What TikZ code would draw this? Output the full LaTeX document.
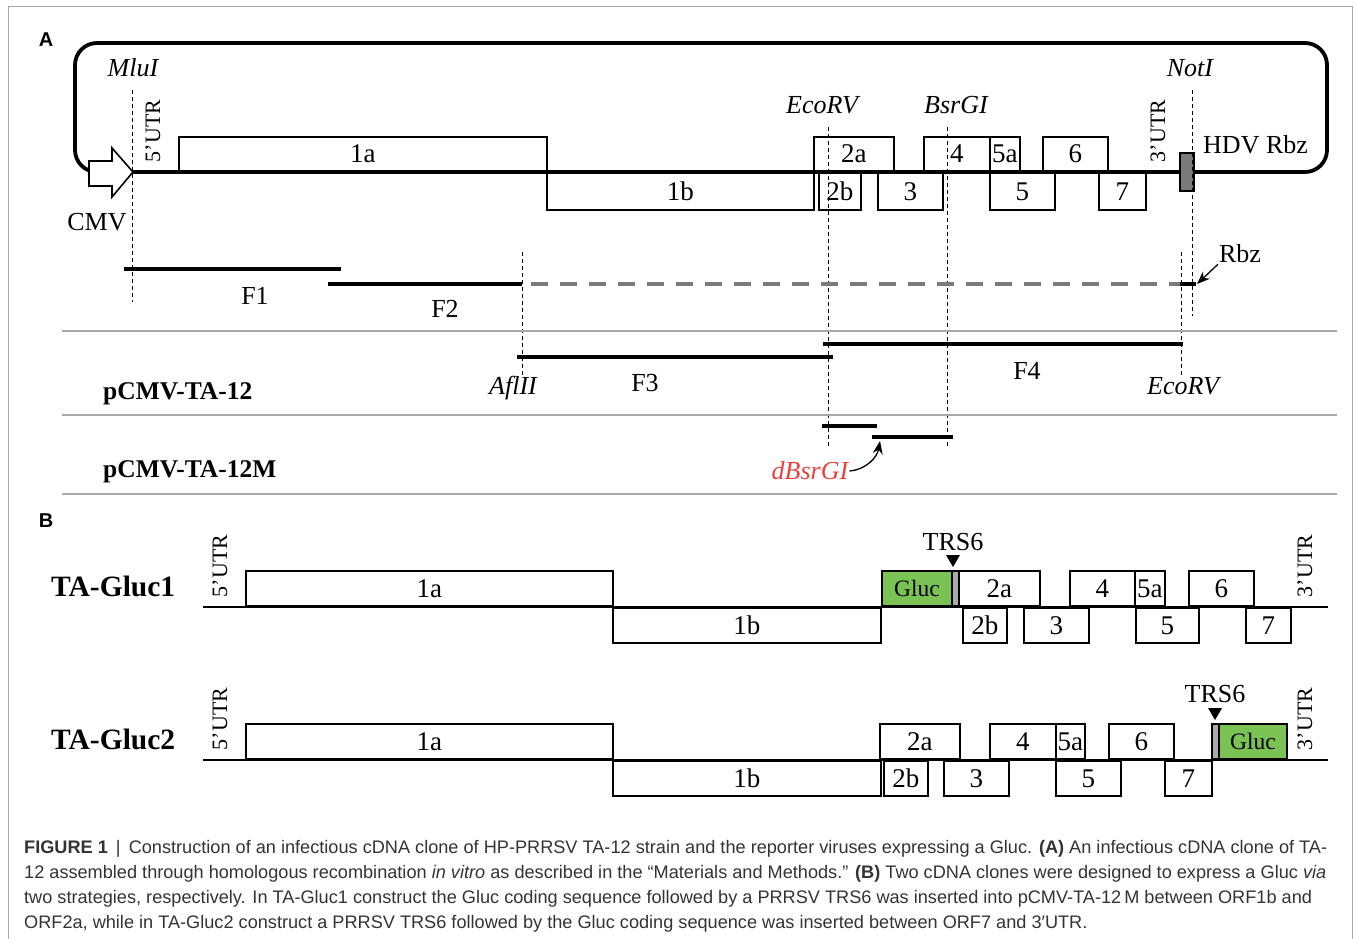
\documentclass[tikz,border=0pt]{standalone}
\usepackage{fontspec}
\setmainfont{Liberation Serif}
\newfontfamily\capfont{Liberation Sans}
\usetikzlibrary{arrows.meta}
\definecolor{glucgreen}{HTML}{79C253}
\definecolor{hdvgray}{HTML}{7A7A7A}
\definecolor{trsgray}{HTML}{AAAAAA}
\definecolor{sitered}{HTML}{E8413C}
\definecolor{captext}{HTML}{333333}
\definecolor{rulegray}{HTML}{A8A8A8}
\newcommand{\lblfont}{\fontsize{26}{28}\selectfont}
\newcommand{\orffont}{\fontsize{27}{29}\selectfont}
\newcommand{\utrfont}{\fontsize{22}{24}\selectfont}
\tikzset{
  orf/.style={draw,line width=1.8pt,fill=white,inner sep=0pt,font=\orffont,minimum height=35pt},
  orfup/.style={orf,anchor=south west},
  orfdown/.style={orf,anchor=north west},
  site/.style={line width=0.9pt,dash pattern=on 4pt off 3pt},
  frag/.style={line width=3.8pt},
  lbl/.style={font=\lblfont,inner sep=1pt},
  enz/.style={font=\lblfont\itshape,inner sep=1pt},
  utr/.style={font=\utrfont,rotate=90,inner sep=1pt},
  clone/.style={font=\fontsize{25.5}{28}\selectfont\bfseries,anchor=west,inner sep=0pt},
  virus/.style={font=\fontsize{29.5}{32}\selectfont\bfseries,anchor=west,inner sep=0pt},
  panel/.style={font=\capfont\fontsize{20}{22}\selectfont\bfseries,inner sep=0pt},
  capline/.style={font=\capfont\fontsize{18.15}{25}\selectfont,text=captext,anchor=base west,inner sep=0pt},
  sepline/.style={rulegray,line width=1.3pt}
}

\begin{document}
\begin{tikzpicture}[x=1pt,y=-1pt]
  \useasboundingbox (0,0) rectangle (1354,939);
  \draw[rulegray,line width=1pt] (8,939) -- (8,7) -- (1352,7) -- (1352,939);

  % panel A
  \node[panel] (pa) at (46,40) {A};
  \foreach \n/\xl/\xr/\lab in {a1a/178/546/1a,a2a/813/893/2a,a4/923/989/4,a5a/989/1019/5a,a6/1042/1107/6}
    {\node[orfup,minimum width={\xr pt-\xl pt},minimum height=34pt] (\n) at (\xl,172) {\lab};}
  \foreach \n/\xl/\xr/\lab in {a1b/546/813/1b,a2b/818/860/2b,a3/877/942/3,a5/989/1054/5,a7/1098/1145/7}
    {\node[orfdown,minimum width={\xr pt-\xl pt},minimum height=37pt] (\n) at (\xl,172) {\lab};}
  \draw[line width=3.8pt,rounded corners=22pt] (100,172) -| (75,43) -| (1327,172) -- (133,172);
  \node[draw,fill=hdvgray,line width=1.5pt,inner sep=0pt,minimum width=14pt,minimum height=38pt] (hdv) at (1187,172) {};
  \filldraw[fill=white,line width=1.6pt] (89,161) -- (112,161) -- (112,148) -- (133,172)
    -- (112,197) -- (112,186) -- (89,186) -- cycle;
  \node[lbl] (cmv) at (97,222) {CMV};
  \node[utr] (utr5a) at (153,131) {5'UTR};
  \node[utr] (utr3a) at (1158,131) {3'UTR};
  \node[lbl,anchor=west] (hdvl) at (1202,145) {HDV Rbz};
  \node[enz] (mlu) at (133,68) {MluI};
  \node[enz] (noti) at (1190,68) {NotI};
  \node[enz] (eco) at (822,105) {EcoRV};
  \node[enz] (bsr) at (956,105) {BsrGI};

  \draw[site] (132,90) -- (132,302);
  \draw[site] (1192,90) -- (1192,316);
  \draw[site] (828,127) -- (828,447);
  \draw[site] (947,127) -- (947,447);
  \draw[site] (522,252) -- (522,376);
  \draw[site] (1181,252) -- (1181,376);

  \draw[frag] (124,269) -- (341,269);
  \draw[frag] (328,284) -- (522,284);
  \draw[frag,hdvgray,dash pattern=on 17pt off 12pt] (531,284) -- (1180,284);
  \draw[frag] (1180,284) -- (1196,284);
  \draw[frag] (517,357) -- (833,357);
  \draw[frag] (823,344) -- (1183,344);
  \draw[frag] (822,426) -- (877,426);
  \draw[frag] (872,437) -- (953,437);
  \node[lbl] (f1) at (255,296) {F1};
  \node[lbl] (f2) at (445,309) {F2};
  \node[lbl] (f3) at (645,383) {F3};
  \node[lbl] (f4) at (1027,371) {F4};
  \node[lbl] (rbz) at (1240,254) {Rbz};
  \coordinate (rbzend) at (1197,284);
  \draw[line width=1.3pt,-{Stealth[length=13pt,width=10pt]}] (rbz.south west) -- (rbzend);
  \node[enz] (afl) at (513,388) {AflII};
  \node[enz] (eco2) at (1183,386) {EcoRV};
  \node[enz,text=sitered] (dbs) at (810,471) {dBsrGI};
  \coordinate (dbsend) at (880,441);
  \draw[line width=1.3pt,-{Stealth[length=13pt,width=10pt]}] (dbs.east) to[out=5,in=-100] (dbsend);

  \draw[sepline] (62,331) -- (1337,331);
  \draw[sepline] (62,415) -- (1337,415);
  \draw[sepline] (62,494) -- (1337,494);
  \node[clone] (pta) at (103,394) {pCMV-TA-12};
  \node[clone] (ptm) at (103,472) {pCMV-TA-12M};

  % panel B
  \node[panel] (pb) at (46,521) {B};
  \foreach \n/\xl/\xr/\lab in {b1a/245/612/1a,b2a/958/1039/2a,b4/1069/1134/4,b5a/1134/1164/5a,b6/1188/1253/6}
    {\node[orfup,minimum width={\xr pt-\xl pt}] (\n) at (\xl,607) {\lab};}
  \foreach \n/\xl/\xr/\lab in {b1b/612/880/1b,b2b/962/1006/2b,b3/1023/1088/3,b5/1135/1198/5,b7/1245/1290/7}
    {\node[orfdown,minimum width={\xr pt-\xl pt}] (\n) at (\xl,607) {\lab};}
  \node[orfup,fill=glucgreen,minimum width=70pt,font=\fontsize{23.5}{26}\selectfont] (bgluc) at (881,607) {Gluc};
  \node[orfup,fill=trsgray,minimum width=7pt] (btrs) at (951,607) {};
  \draw[line width=2pt] (203,607) -- (1328,607);
  \node[virus] (tag1) at (51,586) {TA-Gluc1};
  \node[utr] (utr5b) at (220,566) {5'UTR};
  \node[utr] (utr3b) at (1305,566) {3'UTR};
  \node[lbl] (trsb) at (953,542) {TRS6};
  \fill (946,555) -- (960,555) -- (953,567) -- cycle;

  \foreach \n/\xl/\xr/\lab in {c1a/245/612/1a,c2a/879/959/2a,c4/989/1055/4,c5a/1055/1084/5a,c6/1108/1173/6}
    {\node[orfup,minimum width={\xr pt-\xl pt}] (\n) at (\xl,760) {\lab};}
  \foreach \n/\xl/\xr/\lab in {c1b/612/880/1b,c2b/883/927/2b,c3/943/1008/3,c5/1055/1120/5,c7/1164/1211/7}
    {\node[orfdown,minimum width={\xr pt-\xl pt}] (\n) at (\xl,760) {\lab};}
  \node[orfup,fill=trsgray,minimum width=7pt] (ctrs) at (1211,760) {};
  \node[orfup,fill=glucgreen,minimum width=68pt,font=\fontsize{23.5}{26}\selectfont] (cgluc) at (1218,760) {Gluc};
  \draw[line width=2pt] (203,760) -- (1328,760);
  \node[virus] (tag2) at (51,739) {TA-Gluc2};
  \node[utr] (utr5c) at (220,719) {5'UTR};
  \node[utr] (utr3c) at (1305,719) {3'UTR};
  \node[lbl] (trsc) at (1215,694) {TRS6};
  \fill (1208,708) -- (1222,708) -- (1215,720) -- cycle;

  % caption
  \node[capline] (cap1) at (24,853) {\textbf{FIGURE 1} \,|\, Construction of an infectious cDNA clone of HP-PRRSV TA-12 strain and the reporter viruses expressing a Gluc. \textbf{(A)} An infectious cDNA clone of TA-};
  \node[capline] (cap2) at (24,878) {12 assembled through homologous recombination \textit{in vitro} as described in the “Materials and Methods.” \textbf{(B)} Two cDNA clones were designed to express a Gluc \textit{via}};
  \node[capline] (cap3) at (24,903) {two strategies, respectively. In TA-Gluc1 construct the Gluc coding sequence followed by a PRRSV TRS6 was inserted into pCMV-TA-12\,M between ORF1b and};
  \node[capline] (cap4) at (24,928) {ORF2a, while in TA-Gluc2 construct a PRRSV TRS6 followed by the Gluc coding sequence was inserted between ORF7 and 3′UTR.};
\end{tikzpicture}
\end{document}
